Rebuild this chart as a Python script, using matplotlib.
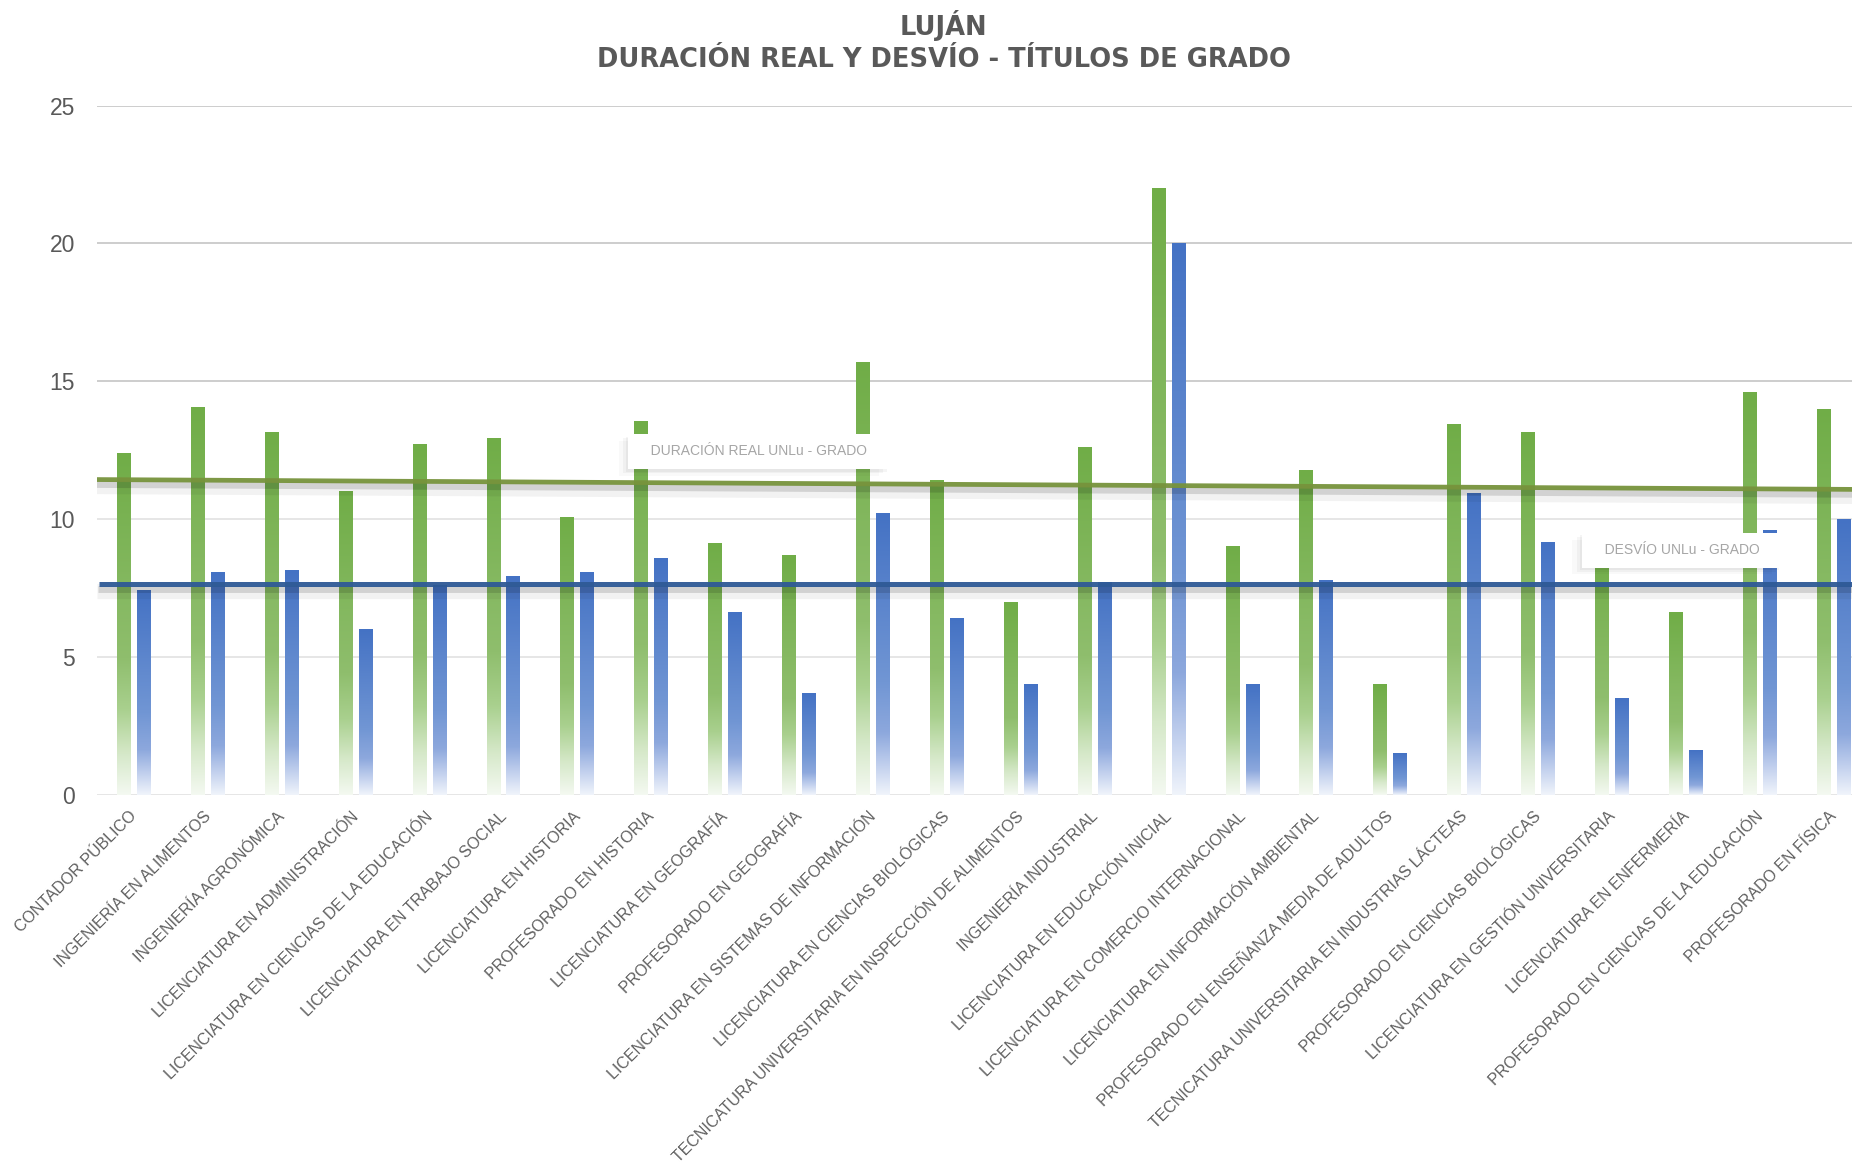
import numpy as np
import matplotlib
matplotlib.use("Agg")
import matplotlib.pyplot as plt
from matplotlib.colors import LinearSegmentedColormap
from matplotlib import patheffects as pe
from matplotlib.transforms import ScaledTranslation

# ---------------- data ----------------
carreras = [
    "CONTADOR PÚBLICO",
    "INGENIERÍA EN ALIMENTOS",
    "INGENIERÍA AGRONÓMICA",
    "LICENCIATURA EN ADMINISTRACIÓN",
    "LICENCIATURA EN CIENCIAS DE LA EDUCACIÓN",
    "LICENCIATURA EN TRABAJO SOCIAL",
    "LICENCIATURA EN HISTORIA",
    "PROFESORADO EN HISTORIA",
    "LICENCIATURA EN GEOGRAFÍA",
    "PROFESORADO EN GEOGRAFÍA",
    "LICENCIATURA EN SISTEMAS DE INFORMACIÓN",
    "LICENCIATURA EN CIENCIAS BIOLÓGICAS",
    "TECNICATURA UNIVERSITARIA EN INSPECCIÓN DE ALIMENTOS",
    "INGENIERÍA INDUSTRIAL",
    "LICENCIATURA EN EDUCACIÓN INICIAL",
    "LICENCIATURA EN COMERCIO INTERNACIONAL",
    "LICENCIATURA EN INFORMACIÓN AMBIENTAL",
    "PROFESORADO EN ENSEÑANZA MEDIA DE ADULTOS",
    "TECNICATURA UNIVERSITARIA EN INDUSTRIAS LÁCTEAS",
    "PROFESORADO EN CIENCIAS BIOLÓGICAS",
    "LICENCIATURA EN GESTIÓN UNIVERSITARIA",
    "LICENCIATURA EN ENFERMERÍA",
    "PROFESORADO EN CIENCIAS DE LA EDUCACIÓN",
    "PROFESORADO EN FÍSICA",
]
duracion_real = [12.39, 14.07, 13.16, 11.02, 12.73, 12.94, 10.08, 13.55,
                 9.13, 8.69, 15.71, 11.42, 6.99, 12.62, 22.02, 9.02,
                 11.78, 4.01, 13.45, 13.16, 8.80, 6.63, 14.61, 13.99]
desvio = [7.42, 8.07, 8.15, 6.01, 7.60, 7.92, 8.07, 8.58,
          6.63, 3.67, 10.21, 6.40, 4.01, 7.70, 20.03, 4.01,
          7.79, 1.51, 10.95, 9.16, 3.49, 1.61, 9.59, 10.00]
# reference lines (UNLu - grado)
duracion_unlu_inicio = 11.43
duracion_unlu_fin = 11.07
desvio_unlu = 7.65
yticks = [0, 5, 10, 15, 20, 25]

# ---------------- figure ----------------
plt.rcParams['font.family'] = ['Liberation Sans', 'DejaVu Sans']
fig = plt.figure(figsize=(18.52, 11.63), dpi=100)
ax = fig.add_axes([0.05213, 0.31685, 0.9577, 0.5923])

n = len(carreras)
x = np.arange(n)
bw = 0.176
off = 0.135

green_cmap = LinearSegmentedColormap.from_list(
    'g', [(0, '#70AD47'), (0.6, '#8FBE6D'), (0.75, '#A9D08E'),
          (0.88, '#D5E8C8'), (1.0, '#F4F9F1')])
blue_cmap = LinearSegmentedColormap.from_list(
    'b', [(0, '#4472C4'), (0.6, '#7196D4'), (0.78, '#8DA8DD'),
          (0.9, '#C3D1EE'), (1.0, '#F0F4FB')])
grad = np.linspace(0, 1, 256).reshape(-1, 1)

bars_g = ax.bar(x - off, duracion_real, width=bw, color='none', zorder=2)
bars_b = ax.bar(x + off, desvio, width=bw, color='none', zorder=2)
for bars, cmap in ((bars_g, green_cmap), (bars_b, blue_cmap)):
    for b in bars:
        x0, w, h = b.get_x(), b.get_width(), b.get_height()
        ax.imshow(grad, cmap=cmap, extent=[x0, x0 + w, 0, h], origin='upper',
                  aspect='auto', interpolation='bilinear', zorder=2)

ax.set_xlim(-0.5, n - 0.5)
ax.set_ylim(0, 25)
ax.set_aspect('auto')

# reference lines with shadow
shadow = [pe.SimpleLineShadow(offset=(-1, -5), shadow_color='#000000', alpha=0.05, linewidth=11),
          pe.SimpleLineShadow(offset=(-0.5, -3.5), shadow_color='#000000', alpha=0.13, linewidth=5),
          pe.Normal()]
ax.plot([-0.5, n - 0.5], [duracion_unlu_inicio, duracion_unlu_fin], color='#77933C',
        lw=3.4, alpha=0.95, zorder=3, solid_capstyle='butt', path_effects=shadow)
ax.plot([-0.47, n - 0.5], [desvio_unlu, desvio_unlu], color='#2F5A96',
        lw=3.6, alpha=0.95, zorder=3, solid_capstyle='butt', path_effects=shadow)

# label boxes
def etiqueta(xd, yd, txt):
    t = ax.text(xd, yd, "   " + txt + "   ", ha='center', va='center', fontsize=10,
                color='#A6A6A6', zorder=6,
                bbox=dict(boxstyle='square,pad=0.75', fc='white', ec='none'))
    t.get_bbox_patch().set_path_effects([
        pe.SimplePatchShadow(offset=(-7, -5), shadow_rgbFace='#000000', alpha=0.025),
        pe.SimplePatchShadow(offset=(-4, -3), shadow_rgbFace='#000000', alpha=0.035),
        pe.SimplePatchShadow(offset=(-1.5, -2), shadow_rgbFace='#000000', alpha=0.04),
        pe.Normal()])
    return t

etiqueta(8.46, 12.45, "DURACIÓN REAL UNLu - GRADO")
etiqueta(20.95, 8.87, "DESVÍO UNLu - GRADO")

# grid & axes styling
ax.set_yticks(yticks)
ax.grid(axis='y', lw=1.3, zorder=0)
for gl, v in zip(ax.yaxis.get_gridlines(), yticks):
    gl.set_color('#C9C9C9' if v >= 15 else '#E4E4E4')
for s in ax.spines.values():
    s.set_visible(False)
ax.tick_params(axis='y', length=0, pad=15.5, labelsize=16.5, labelcolor='#595959')
ax.tick_params(axis='x', length=0, pad=14, labelsize=11.5, labelcolor='#606060')
ax.set_xticks(x)
ax.set_xticklabels(carreras, rotation=45, ha='right', va='center', rotation_mode='anchor')
shift = ScaledTranslation(1.0 / 100, 0, fig.dpi_scale_trans)
for lab in ax.get_xticklabels():
    lab.set_transform(lab.get_transform() + shift)

# titles
fig.text(0.5095, 0.9696, "LUJÁN", ha='center', va='baseline', fontsize=18.5,
         fontweight='bold', color='#595959', family='DejaVu Sans')
fig.text(0.5095, 0.9426, "DURACIÓN REAL Y DESVÍO - TÍTULOS DE GRADO", ha='center',
         va='baseline', fontsize=18.5, fontweight='bold', color='#595959', family='DejaVu Sans')

fig.savefig("out.png", dpi=100, facecolor='white')
